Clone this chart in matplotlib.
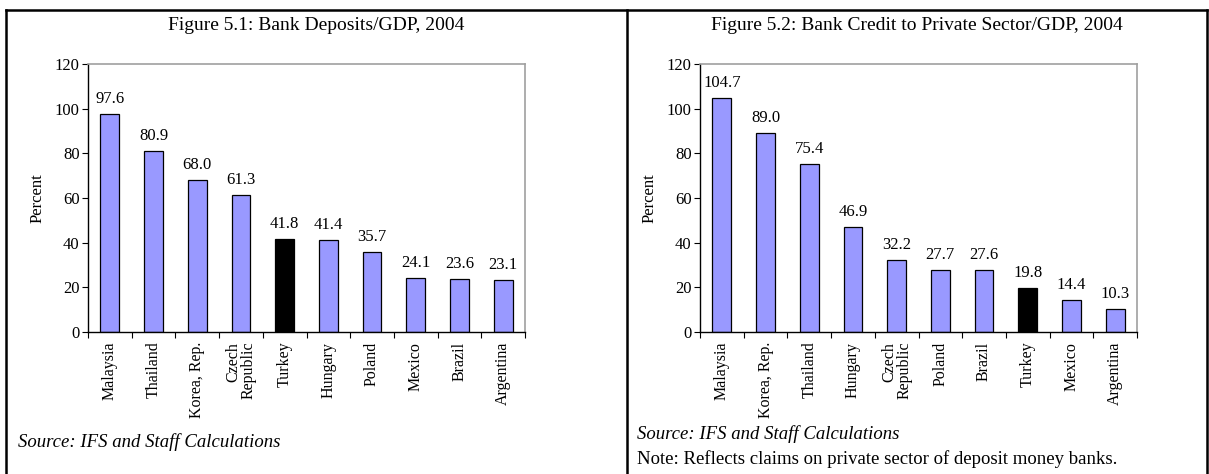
import matplotlib.pyplot as plt
from matplotlib.lines import Line2D

plt.rcParams['font.family'] = ['Liberation Serif', 'DejaVu Serif']

# data
dep_countries = ['Malaysia', 'Thailand', 'Korea, Rep.', 'Czech\nRepublic', 'Turkey',
                 'Hungary', 'Poland', 'Mexico', 'Brazil', 'Argentina']
dep_values = [97.6, 80.9, 68.0, 61.3, 41.8, 41.4, 35.7, 24.1, 23.6, 23.1]

cred_countries = ['Malaysia', 'Korea, Rep.', 'Thailand', 'Hungary', 'Czech\nRepublic',
                  'Poland', 'Brazil', 'Turkey', 'Mexico', 'Argentina']
cred_values = [104.7, 89.0, 75.4, 46.9, 32.2, 27.7, 27.6, 19.8, 14.4, 10.3]

W, H = 1209, 474
fig = plt.figure(figsize=(W / 100, H / 100), dpi=100)


def px_axes(x0, y0, x1, y1):
    # pixel box (top-left origin) -> figure axes
    return fig.add_axes([x0 / W, 1 - y1 / H, (x1 - x0) / W, (y1 - y0) / H])


def bar_panel(ax, countries, values):
    xs = range(len(values))
    colors = ['black' if c == 'Turkey' else '#9999ff' for c in countries]
    ax.bar(xs, values, width=0.43, color=colors, edgecolor='black', linewidth=0.9)
    for x, v in zip(xs, values):
        ax.annotate(f'{v:.1f}', (x, v), xytext=(0, 5), textcoords='offset points',
                    ha='center', va='bottom', fontsize=12)
    ax.set_xlim(-0.5, len(values) - 0.5)
    ax.set_ylim(0, 120)
    ax.set_yticks(range(0, 121, 20))
    ax.tick_params(axis='y', direction='out', length=4, labelsize=12, pad=2)
    ax.set_xticks([i - 0.5 for i in range(len(values) + 1)])
    ax.set_xticklabels([])
    ax.set_xticks(list(xs), minor=True)
    ax.set_xticklabels(countries, minor=True, rotation=90, fontsize=11.5,
                       linespacing=0.95, multialignment='right')
    ax.tick_params(axis='x', which='major', direction='out', length=4)
    ax.tick_params(axis='x', which='minor', length=0, pad=7)
    for s in ['top', 'right']:
        ax.spines[s].set_color('#a0a0a0')
        ax.spines[s].set_linewidth(1.2)
    for s in ['left', 'bottom']:
        ax.spines[s].set_linewidth(1.0)
    ax.set_ylabel('Percent', fontsize=12, labelpad=7)


ax1 = px_axes(88, 64, 525, 332)
bar_panel(ax1, dep_countries, dep_values)
ax2 = px_axes(700, 64, 1137, 332)
bar_panel(ax2, cred_countries, cred_values)

# titles and notes
fig.text(316 / W, 1 - 26 / H, 'Figure 5.1: Bank Deposits/GDP, 2004',
         ha='center', va='center', fontsize=14)
fig.text(917 / W, 1 - 26 / H, 'Figure 5.2: Bank Credit to Private Sector/GDP, 2004',
         ha='center', va='center', fontsize=14)
fig.text(18 / W, 1 - 442 / H, 'Source: IFS and Staff Calculations',
         ha='left', va='center', fontsize=13.5, style='italic')
fig.text(637 / W, 1 - 434 / H, 'Source: IFS and Staff Calculations',
         ha='left', va='center', fontsize=13.5, style='italic')
fig.text(637 / W, 1 - 459 / H, 'Note: Reflects claims on private sector of deposit money banks.',
         ha='left', va='center', fontsize=13.5)

# table borders
for (xa, ya, xb, yb) in [(6, 10, 1207, 10), (6, 10, 6, 474), (627, 10, 627, 474),
                         (1207, 10, 1207, 474)]:
    fig.add_artist(Line2D([xa / W, xb / W], [1 - ya / H, 1 - yb / H],
                          transform=fig.transFigure, color='black', linewidth=1.8))

fig.savefig('out.png', dpi=100)
